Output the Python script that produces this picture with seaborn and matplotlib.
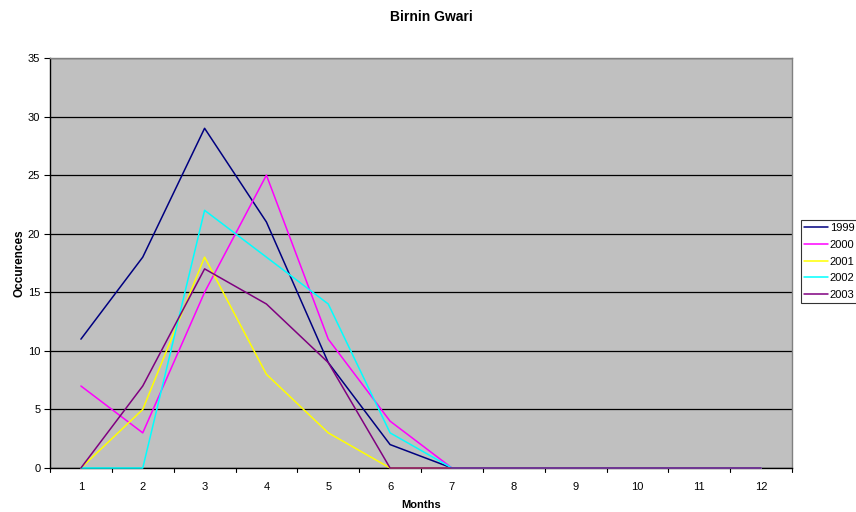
import matplotlib
matplotlib.use("Agg")
import matplotlib.pyplot as plt
import seaborn as sns
import pandas as pd

months = list(range(1, 13))
y1999 = [11, 18, 29, 21, 9, 2, 0, 0, 0, 0, 0, 0]
y2000 = [7, 3, 15, 25, 11, 4, 0, 0, 0, 0, 0, 0]
y2001 = [0, 5, 18, 8, 3, 0, 0, 0, 0, 0, 0, 0]
y2002 = [0, 0, 22, 18, 14, 3, 0, 0, 0, 0, 0, 0]
y2003 = [0, 7, 17, 14, 9, 0, 0, 0, 0, 0, 0, 0]
years = ["1999", "2000", "2001", "2002", "2003"]
colors = ["#000080", "#FF00FF", "#FFFF00", "#00FFFF", "#800080"]

df = pd.DataFrame({
    "Month": months * 5,
    "Occurences": y1999 + y2000 + y2001 + y2002 + y2003,
    "Year": sum([[y] * 12 for y in years], []),
})

sns.set_theme(style="white")
plt.rcParams["font.family"] = ["Liberation Sans", "DejaVu Sans"]
plt.rcParams["text.color"] = "black"
plt.rcParams["axes.labelcolor"] = "black"
plt.rcParams["xtick.color"] = "black"
plt.rcParams["ytick.color"] = "black"

fig = plt.figure(figsize=(8.56, 5.12), dpi=100)
ax = fig.add_axes([50 / 856, 1 - 468 / 512, 742 / 856, 410 / 512])
ax.set_facecolor("#C0C0C0")

sns.lineplot(data=df, x="Month", y="Occurences", hue="Year",
             palette=dict(zip(years, colors)), linewidth=1.1, ax=ax,
             legend=False)
for ln in ax.get_lines():
    ln.set_clip_on(False)
    ln.set_zorder(3)

ax.set_xlim(0.5, 12.5)
ax.set_ylim(0, 35)
ax.set_yticks(range(0, 36, 5))
ax.set_xticks(months)
ax.set_xticklabels([str(m) for m in months], fontsize=8)
ax.tick_params(axis="y", labelsize=8, length=4, width=0.8, color="black",
               direction="out", left=True, pad=3)
ax.tick_params(axis="x", length=0, pad=10)
# category boundary ticks between months
for xb in [m + 0.5 for m in range(0, 13)]:
    ax.plot([xb, xb], [0, -0.35], color="black", lw=0.8, clip_on=False)

ax.yaxis.grid(True, color="black", linewidth=0.9)
ax.set_axisbelow(True)
for side in ["top", "right"]:
    ax.spines[side].set_color("#808080")
    ax.spines[side].set_linewidth(1.0)
for side in ["left", "bottom"]:
    ax.spines[side].set_color("black")
    ax.spines[side].set_linewidth(1.0)

ax.set_xlabel("Months", fontsize=8, fontweight="bold", labelpad=6)
ax.set_ylabel("Occurences", fontsize=8.5, fontweight="bold", labelpad=2)
fig.suptitle("Birnin Gwari", x=431 / 856, y=1 - 17 / 512, va="center",
             fontsize=10, fontweight="bold", color="black")

handles = [plt.Line2D([0], [0], color=c, lw=1.1) for c in colors]
leg = fig.legend(handles, years, loc="upper left",
                 bbox_to_anchor=(801 / 856, 1 - 220 / 512),
                 fontsize=8, frameon=True, fancybox=False, handlelength=2.1,
                 handletextpad=0.2, labelspacing=0.6, borderpad=0.3,
                 borderaxespad=0)
leg.get_frame().set_edgecolor("black")
leg.get_frame().set_linewidth(0.8)

fig.savefig("out.png", dpi=100)
